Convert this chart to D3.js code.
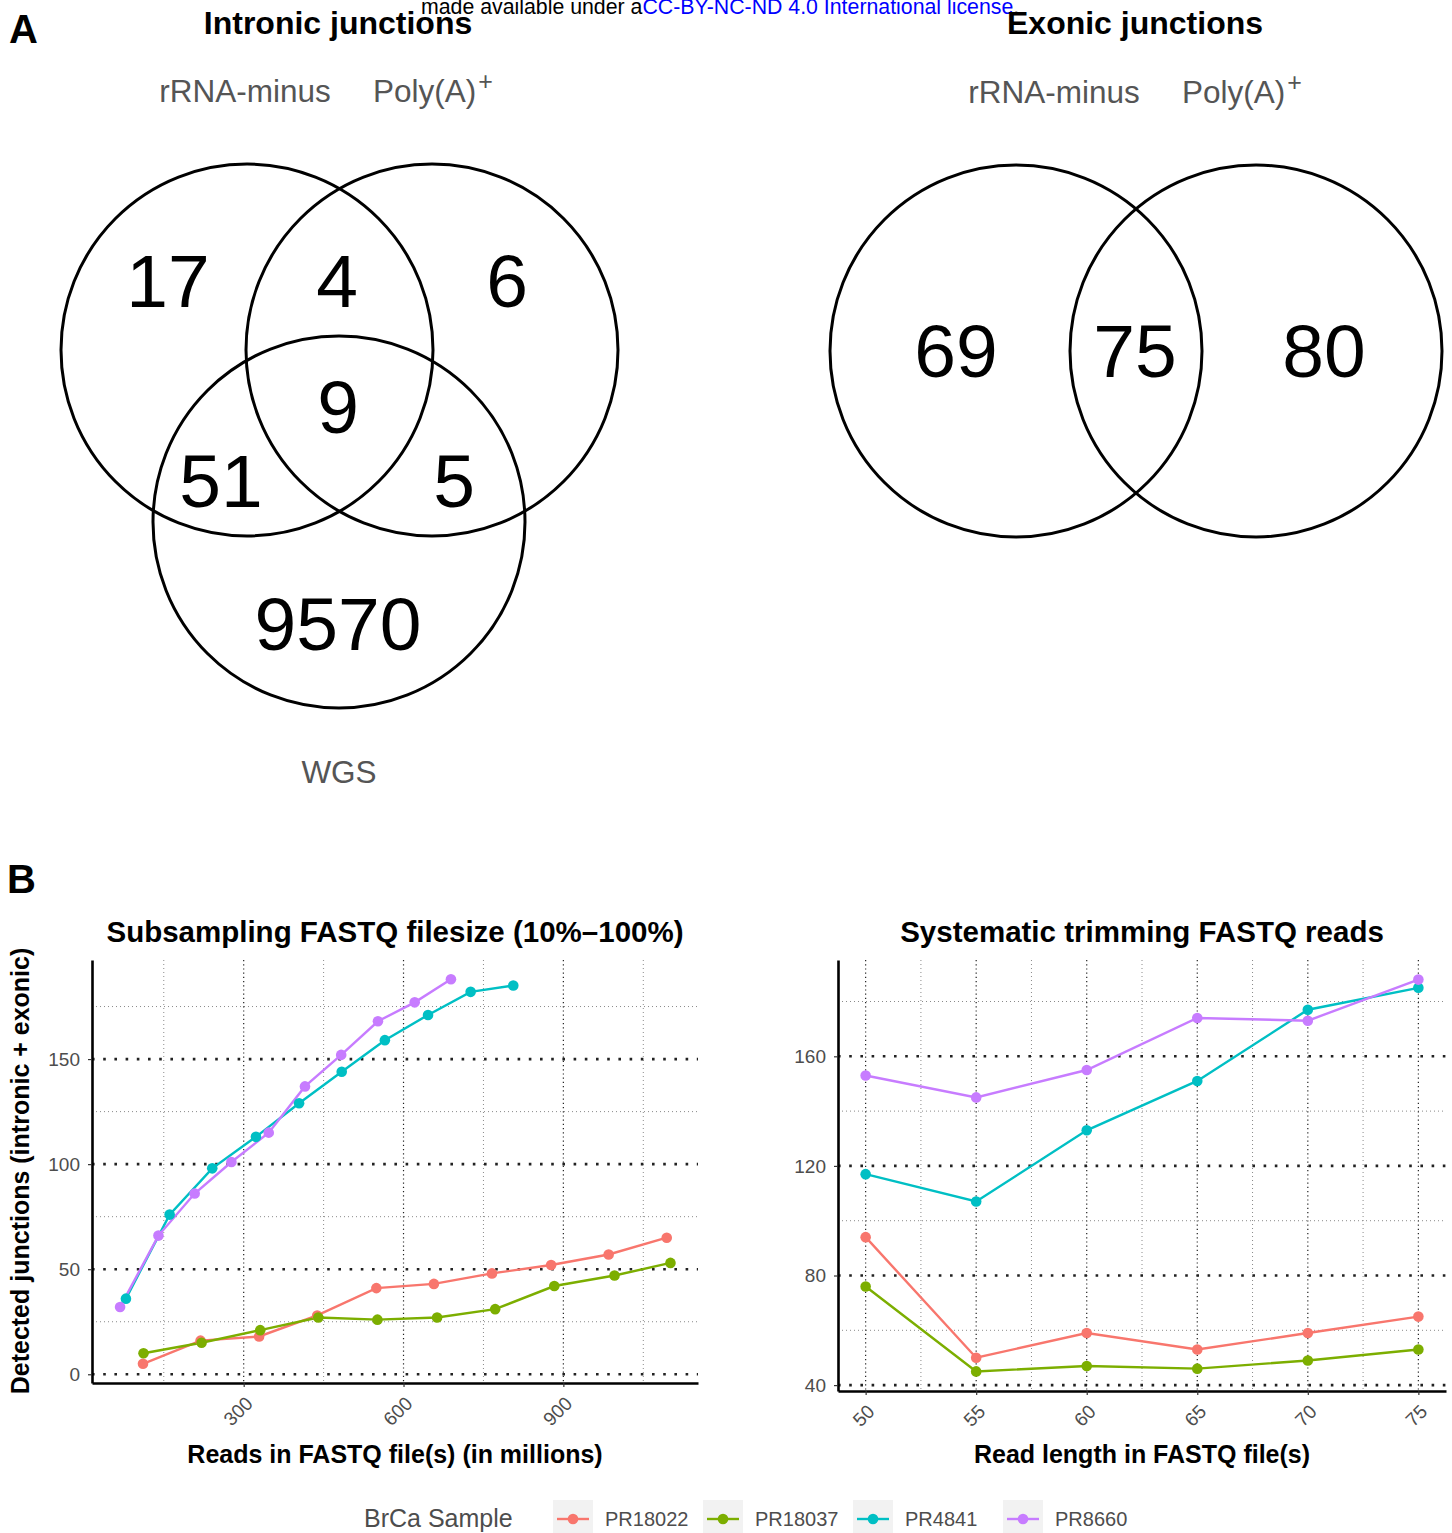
<!DOCTYPE html>
<html><head><meta charset="utf-8">
<script src="https://cdn.jsdelivr.net/npm/d3@7"></script>
<style>
body{margin:0;background:#fff}
svg{display:block}
text{font-family:"Liberation Sans",Arial,Helvetica,sans-serif}
</style>
</head><body>
<svg id="c" width="1452" height="1533"></svg>
<script>
// ---------------- DATA ----------------
const samples = ["PR18022", "PR18037", "PR4841", "PR8660"];
const sampleColors = ["#F8766D", "#7CAE00", "#00BFC4", "#C77CFF"];

// Panel B left: subsampling (reads in millions -> detected junctions)
const subReads = {
  PR18022: [111, 219, 329, 438, 549, 657, 766, 877, 985, 1094],
  PR18037: [112, 221, 331, 440, 551, 663, 772, 883, 996, 1101],
  PR4841:  [79, 161, 241, 323, 404, 484, 565, 646, 726, 806],
  PR8660:  [68, 140, 208, 277, 347, 415, 483, 552, 621, 689]
};
const subJunctions = {
  PR18022: [5, 16, 18, 28, 41, 43, 48, 52, 57, 65],
  PR18037: [10, 15, 21, 27, 26, 27, 31, 42, 47, 53],
  PR4841:  [36, 76, 98, 113, 129, 144, 159, 171, 182, 185],
  PR8660:  [32, 66, 86, 101, 115, 137, 152, 168, 177, 188]
};
const subXTicks = [300, 600, 900];
const subXMinor = [150, 450, 750, 1050];
const subYTicks = [0, 50, 100, 150];
const subYMinor = [25, 75, 125, 175];

// Panel B right: trimming (read length -> detected junctions)
const readLengths = [50, 55, 60, 65, 70, 75];
const trimJunctions = {
  PR18022: [94, 50, 59, 53, 59, 65],
  PR18037: [76, 45, 47, 46, 49, 53],
  PR4841:  [117, 107, 133, 151, 177, 185],
  PR8660:  [153, 145, 155, 174, 173, 188]
};
const trimXMinor = [52.5, 57.5, 62.5, 67.5, 72.5];
const trimYTicks = [40, 80, 120, 160];
const trimYMinor = [60, 100, 140, 180];

// Panel A: Venn counts
const intronicSets = ["rRNA-minus", "Poly(A)", "WGS"];
// regions: only1, 1&2, only2, 1&3, 1&2&3, 2&3, only3
const intronicCounts = [17, 4, 6, 51, 9, 5, 9570];
const exonicSets = ["rRNA-minus", "Poly(A)"];
// regions: only1, 1&2, only2
const exonicCounts = [69, 75, 80];

// ---------------- DRAW ----------------
const svg = d3.select("#c");
const FONT = '"Liberation Sans",Arial,Helvetica,sans-serif';

// header
const hdr = svg.append("text").attr("x", 421).attr("y", 14).attr("font-size", 21.3).attr("fill", "#000");
hdr.append("tspan").text("made available under a");
hdr.append("tspan").attr("fill", "#0000ff").text("CC-BY-NC-ND 4.0 International license");
hdr.append("tspan").text(".");

// panel letters
svg.append("text").attr("x", 9).attr("y", 43).attr("font-size", 40).attr("font-weight", "bold").text("A");
svg.append("text").attr("x", 7).attr("y", 893).attr("font-size", 40).attr("font-weight", "bold").text("B");

// ---- Venn helpers ----
function setLabel(g, x, y, name, anchor) {
  const t = g.append("text").attr("x", x).attr("y", y).attr("font-size", 31.5)
    .attr("fill", "#555").attr("text-anchor", anchor || "middle");
  if (name === "Poly(A)") {
    t.append("tspan").text("Poly(A)");
    t.append("tspan").attr("font-size", 25).attr("dx", 2).attr("dy", -12).text("+");
  } else t.text(name);
}
function count(g, x, y, v) {
  g.append("text").attr("x", x).attr("y", y).attr("font-size", 75)
    .attr("text-anchor", "middle").attr("fill", "#000").text(v);
}

// Intronic venn
const vA = svg.append("g");
vA.append("text").attr("x", 338).attr("y", 34).attr("font-size", 32).attr("font-weight", "bold")
  .attr("text-anchor", "middle").text("Intronic junctions");
const R = 186;
const circI = [[247, 350], [432, 350], [339, 522]];
vA.selectAll("circle").data(circI).join("circle")
  .attr("cx", d => d[0]).attr("cy", d => d[1]).attr("r", R)
  .attr("fill", "none").attr("stroke", "#000").attr("stroke-width", 3);
const posI = [[168, 307], [337, 307], [507, 307], [221, 507], [338, 433], [454, 507], [338, 650]];
intronicCounts.forEach((v, i) => count(vA, posI[i][0], posI[i][1], v));
setLabel(vA, 245, 102, intronicSets[0]);
setLabel(vA, 373, 102, intronicSets[1], "start");
setLabel(vA, 339, 783, intronicSets[2]);

// Exonic venn
const vE = svg.append("g");
vE.append("text").attr("x", 1135).attr("y", 34).attr("font-size", 32).attr("font-weight", "bold")
  .attr("text-anchor", "middle").text("Exonic junctions");
const circE = [[1016, 351], [1256, 351]];
vE.selectAll("circle").data(circE).join("circle")
  .attr("cx", d => d[0]).attr("cy", d => d[1]).attr("r", R)
  .attr("fill", "none").attr("stroke", "#000").attr("stroke-width", 3);
const posE = [[956, 377], [1135, 377], [1324, 377]];
exonicCounts.forEach((v, i) => count(vE, posE[i][0], posE[i][1], v));
setLabel(vE, 1054, 103, exonicSets[0]);
setLabel(vE, 1182, 103, exonicSets[1], "start");

// ---- line panels ----
function linePanel(o) {
  const g = svg.append("g");
  const x = d3.scaleLinear().domain(o.xDomain).range(o.xRange);
  const y = d3.scaleLinear().domain(o.yDomain).range(o.yRange);
  const [x0, x1] = o.xRange, [y0, y1] = [o.yRange[1], o.yRange[0]]; // y0 top, y1 bottom

  // minor grid
  g.append("g").selectAll("line").data(o.yMinor).join("line")
    .attr("x1", x0).attr("x2", x1).attr("y1", d => y(d)).attr("y2", d => y(d))
    .attr("stroke", "#8a8a8a").attr("stroke-width", 1).attr("stroke-dasharray", "1 3");
  g.append("g").selectAll("line").data(o.xMinor).join("line")
    .attr("y1", y0).attr("y2", y1).attr("x1", d => x(d)).attr("x2", d => x(d))
    .attr("stroke", "#8a8a8a").attr("stroke-width", 1).attr("stroke-dasharray", "1 3");
  // major vertical
  g.append("g").selectAll("line").data(o.xTicks).join("line")
    .attr("y1", y0).attr("y2", y1).attr("x1", d => x(d)).attr("x2", d => x(d))
    .attr("stroke", "#222").attr("stroke-width", 1.2).attr("stroke-dasharray", "1.2 3");
  // major horizontal
  g.append("g").selectAll("line").data(o.yTicks).join("line")
    .attr("x1", x0).attr("x2", x1).attr("y1", d => y(d)).attr("y2", d => y(d))
    .attr("stroke", "#222").attr("stroke-width", 2.6).attr("stroke-dasharray", "2.6 8.6");

  // series
  const line = d3.line().x(d => x(d[0])).y(d => y(d[1]));
  o.series.forEach(s => {
    g.append("path").datum(s.pts).attr("d", line).attr("fill", "none")
      .attr("stroke", s.color).attr("stroke-width", 2.4);
  });
  o.series.forEach(s => {
    g.append("g").selectAll("circle").data(s.pts).join("circle")
      .attr("cx", d => x(d[0])).attr("cy", d => y(d[1])).attr("r", 5.3).attr("fill", s.color);
  });

  // axes
  const ay = g.append("g").attr("transform", `translate(${x0},0)`)
    .call(d3.axisLeft(y).tickValues(o.yTicks).tickSize(4).tickSizeOuter(0).tickPadding(8));
  const ax = g.append("g").attr("transform", `translate(0,${y1})`)
    .call(d3.axisBottom(x).tickValues(o.xTicks).tickSize(4).tickSizeOuter(0).tickFormat(d3.format("d")));
  [ay, ax].forEach(a => {
    a.select(".domain").attr("stroke", "#000").attr("stroke-width", 2.6);
    a.selectAll(".tick line").attr("stroke", "#333").attr("stroke-width", 1.2);
    a.selectAll(".tick text").attr("fill", "#4d4d4d").attr("font-size", 19).attr("font-family", FONT);
  });
  ax.selectAll(".tick text").each(function () {
    d3.select(this).attr("y", null).attr("x", null)
      .attr("text-anchor", "end")
      .attr("transform", "translate(0,12) rotate(-45)").attr("dy", "0.72em");
  });

  // titles
  g.append("text").attr("x", (x0 + x1) / 2).attr("y", 942).attr("font-size", 29.5)
    .attr("font-weight", "bold").attr("text-anchor", "middle").text(o.title);
  g.append("text").attr("x", (x0 + x1) / 2).attr("y", 1463).attr("font-size", 25)
    .attr("font-weight", "bold").attr("text-anchor", "middle").text(o.xTitle);
  return g;
}

linePanel({
  xDomain: [15.3, 1152.7], xRange: [92, 698],
  yDomain: [-4.15, 197.15], yRange: [1383, 960],
  xTicks: subXTicks, xMinor: subXMinor, yTicks: subYTicks, yMinor: subYMinor,
  series: samples.map((s, i) => ({
    color: sampleColors[i],
    pts: subReads[s].map((r, j) => [r, subJunctions[s][j]])
  })),
  title: "Subsampling FASTQ filesize (10%\u2013100%)",
  xTitle: "Reads in FASTQ file(s) (in millions)"
});

linePanel({
  xDomain: [48.75, 76.25], xRange: [838, 1446],
  yDomain: [37.85, 195.15], yRange: [1391, 960],
  xTicks: readLengths, xMinor: trimXMinor, yTicks: trimYTicks, yMinor: trimYMinor,
  series: samples.map((s, i) => ({
    color: sampleColors[i],
    pts: readLengths.map((r, j) => [r, trimJunctions[s][j]])
  })),
  title: "Systematic trimming FASTQ reads",
  xTitle: "Read length in FASTQ file(s)"
});

// y title (shared)
svg.append("text").attr("transform", "translate(29,1171) rotate(-90)")
  .attr("font-size", 25).attr("font-weight", "bold").attr("text-anchor", "middle")
  .text("Detected junctions (intronic + exonic)");

// legend
const lg = svg.append("g");
lg.append("text").attr("x", 364).attr("y", 1527).attr("font-size", 25).attr("fill", "#4d4d4d").text("BrCa Sample");
samples.forEach((s, i) => {
  const bx = 553 + i * 150;
  lg.append("rect").attr("x", bx).attr("y", 1500).attr("width", 40).attr("height", 40).attr("fill", "#f2f2f2");
  lg.append("line").attr("x1", bx + 4).attr("x2", bx + 36).attr("y1", 1519).attr("y2", 1519)
    .attr("stroke", sampleColors[i]).attr("stroke-width", 2.4);
  lg.append("circle").attr("cx", bx + 20).attr("cy", 1519).attr("r", 5.3).attr("fill", sampleColors[i]);
  lg.append("text").attr("x", bx + 52).attr("y", 1526).attr("font-size", 20).attr("fill", "#4d4d4d").text(s);
});
</script>
</body></html>
